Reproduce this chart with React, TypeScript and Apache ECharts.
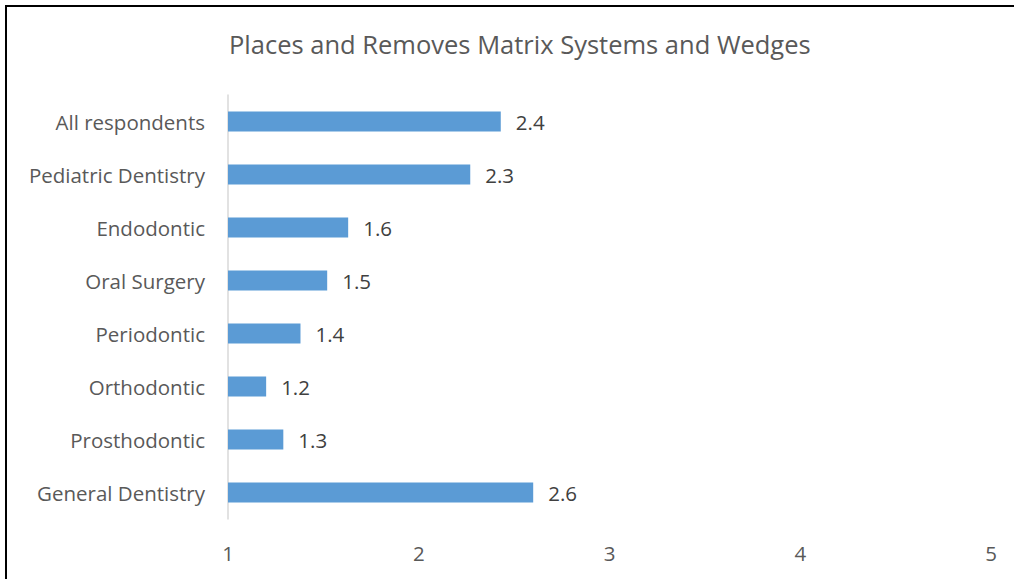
import React, { useEffect, useRef } from "react";
import * as echarts from "echarts";

const categories = [
  "General Dentistry",
  "Prosthodontic",
  "Orthodontic",
  "Periodontic",
  "Oral Surgery",
  "Endodontic",
  "Pediatric Dentistry",
  "All respondents",
];
const values = [2.6, 1.29, 1.2, 1.38, 1.52, 1.63, 2.27, 2.43];
const xTicks = [1, 2, 3, 4, 5];

const FONT = "'Open Sans', 'Liberation Sans', sans-serif";

export default function App() {
  const ref = useRef<HTMLDivElement>(null);
  useEffect(() => {
    if (!ref.current) return;
    const chart = echarts.init(ref.current, null, { renderer: "svg" });
    chart.setOption({
      animation: false,
      backgroundColor: "#ffffff",
      title: {
        text: "Places and Removes Matrix Systems and Wedges",
        left: 224,
        top: 26,
        textStyle: { fontFamily: FONT, fontSize: 25.5, fontWeight: "normal", color: "#595959" },
      },
      graphic: [
        {
          type: "rect",
          shape: { x: 6, y: 6, width: 1100, height: 700 },
          style: { fill: "none", stroke: "#000000", lineWidth: 2 },
          silent: true,
        },
      ],
      grid: { left: 228, right: 23, top: 95, bottom: 60, containLabel: false },
      xAxis: {
        type: "value",
        min: xTicks[0],
        max: xTicks[xTicks.length - 1],
        interval: 1,
        splitLine: { show: false },
        axisLine: { show: false },
        axisTick: { show: false },
        axisLabel: { fontFamily: FONT, fontSize: 20.5, color: "#595959", margin: 23 },
      },
      yAxis: {
        type: "category",
        data: categories,
        axisLine: { show: true, lineStyle: { color: "#d9d9d9", width: 1.5 } },
        axisTick: { show: false },
        axisLabel: { fontFamily: FONT, fontSize: 20.5, color: "#595959", margin: 23 },
      },
      series: [
        {
          type: "bar",
          data: values,
          barWidth: "38%",
          itemStyle: { color: "#5b9bd5" },
          label: {
            show: true,
            position: "right",
            distance: 15,
            fontFamily: FONT,
            fontSize: 20.5,
            color: "#404040",
            formatter: (p: any) => Number(p.value).toFixed(1),
          },
        },
      ],
    });
    return () => chart.dispose();
  }, []);
  return (
    <div
      ref={ref}
      style={{ position: "fixed", left: 0, top: 0, width: 1014, height: 579 }}
    />
  );
}
